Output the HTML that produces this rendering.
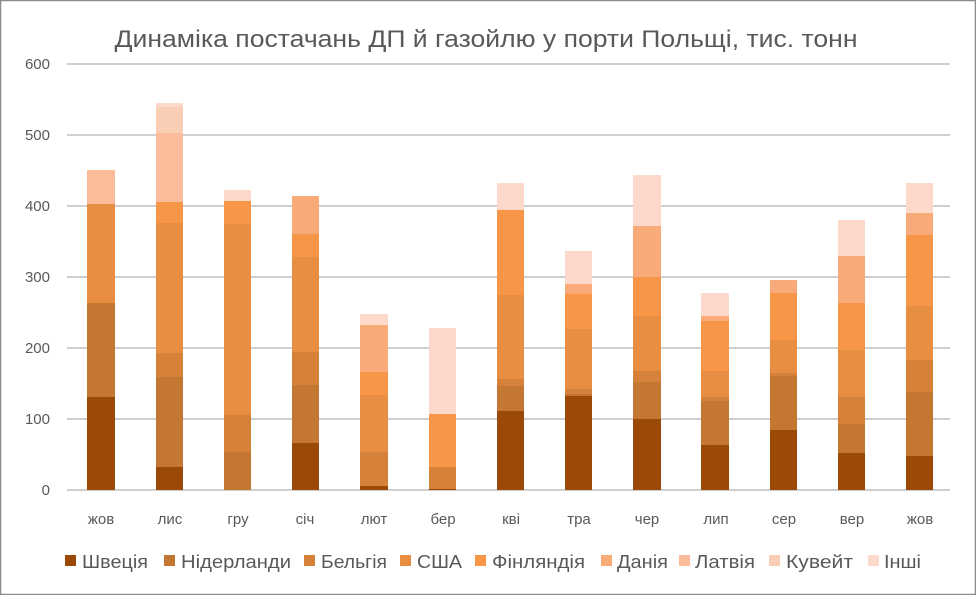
<!DOCTYPE html>
<html><head><meta charset="utf-8"><style>
html,body{margin:0;padding:0;background:#fff}
svg{display:block;font-family:"Liberation Sans",sans-serif}
</style></head><body>
<svg width="976" height="595" viewBox="0 0 976 595" xmlns="http://www.w3.org/2000/svg">
<rect x="0.5" y="0.5" width="975" height="594" fill="#fff" stroke="#8c8c8c" stroke-width="1.5"/>
<text x="486" y="47" font-size="24" fill="#595959" text-anchor="middle" textLength="743" lengthAdjust="spacingAndGlyphs">Динаміка постачань ДП й газойлю у порти Польщі, тис. тонн</text>
<g stroke="#bfbfbf" stroke-width="1.5">
<line x1="67" x2="950" y1="64" y2="64"/><line x1="67" x2="950" y1="135" y2="135"/>
<line x1="67" x2="950" y1="206" y2="206"/><line x1="67" x2="950" y1="277" y2="277"/>
<line x1="67" x2="950" y1="348" y2="348"/><line x1="67" x2="950" y1="419" y2="419"/>
</g>
<g font-size="15" fill="#595959" text-anchor="end">
<text x="50" y="69">600</text><text x="50" y="140">500</text><text x="50" y="211">400</text>
<text x="50" y="282">300</text><text x="50" y="353">200</text><text x="50" y="424">100</text><text x="50" y="495">0</text>
</g>
<g id="bars"></g>
<line x1="67" x2="950" y1="490" y2="490" stroke="#bfbfbf" stroke-width="1.5"/>
<g font-size="15" fill="#595959" text-anchor="middle">
<text x="101" y="524">жов</text><text x="170" y="524">лис</text><text x="238" y="524">гру</text>
<text x="305" y="524">січ</text><text x="374" y="524">лют</text><text x="443" y="524">бер</text>
<text x="511" y="524">кві</text><text x="579" y="524">тра</text><text x="647" y="524">чер</text>
<text x="716" y="524">лип</text><text x="784" y="524">сер</text><text x="852" y="524">вер</text>
<text x="920" y="524">жов</text>
</g>
<g font-size="18" fill="#595959">
<rect x="65" y="555" width="11" height="11" fill="#9A4A06"/><text x="82" y="568" textLength="66" lengthAdjust="spacingAndGlyphs">Швеція</text>
<rect x="164" y="555" width="11" height="11" fill="#C47633"/><text x="181" y="568" textLength="110" lengthAdjust="spacingAndGlyphs">Нідерланди</text>
<rect x="304" y="555" width="11" height="11" fill="#D6813A"/><text x="321" y="568" textLength="66" lengthAdjust="spacingAndGlyphs">Бельгія</text>
<rect x="400" y="555" width="11" height="11" fill="#E88E42"/><text x="417" y="568" textLength="45" lengthAdjust="spacingAndGlyphs">США</text>
<rect x="475" y="555" width="11" height="11" fill="#F79646"/><text x="492" y="568" textLength="93" lengthAdjust="spacingAndGlyphs">Фінляндія</text>
<rect x="601" y="555" width="11" height="11" fill="#F8AA79"/><text x="617" y="568" textLength="51" lengthAdjust="spacingAndGlyphs">Данія</text>
<rect x="679" y="555" width="11" height="11" fill="#FABC9A"/><text x="695" y="568" textLength="60" lengthAdjust="spacingAndGlyphs">Латвія</text>
<rect x="769" y="555" width="11" height="11" fill="#FACDB5"/><text x="786" y="568" textLength="67" lengthAdjust="spacingAndGlyphs">Кувейт</text>
<rect x="868" y="555" width="11" height="11" fill="#FCD9CA"/><text x="884" y="568" textLength="37" lengthAdjust="spacingAndGlyphs">Інші</text>
</g>
<g>
<!-- жов -->
<rect x="87" y="397" width="28" height="93" fill="#9A4A06"/>
<rect x="87" y="303" width="28" height="94" fill="#C47633"/>
<rect x="87" y="204" width="28" height="99" fill="#E88E42"/>
<rect x="87" y="170" width="28" height="34" fill="#FABC9A"/>
<!-- лис -->
<rect x="156" y="467" width="27" height="23" fill="#9A4A06"/>
<rect x="156" y="377" width="27" height="90" fill="#C47633"/>
<rect x="156" y="353" width="27" height="24" fill="#D6813A"/>
<rect x="156" y="223" width="27" height="130" fill="#E88E42"/>
<rect x="156" y="202" width="27" height="21" fill="#F79646"/>
<rect x="156" y="133" width="27" height="69" fill="#FABC9A"/>
<rect x="156" y="107" width="27" height="26" fill="#FACDB5"/>
<rect x="156" y="103" width="27" height="4" fill="#FCD9CA"/>
<!-- гру -->
<rect x="224" y="452" width="27" height="38" fill="#C47633"/>
<rect x="224" y="415" width="27" height="37" fill="#D6813A"/>
<rect x="224" y="224" width="27" height="191" fill="#E88E42"/>
<rect x="224" y="201" width="27" height="23" fill="#F79646"/>
<rect x="224" y="190" width="27" height="11" fill="#FCD9CA"/>
<!-- січ -->
<rect x="292" y="443" width="27" height="47" fill="#9A4A06"/>
<rect x="292" y="385" width="27" height="58" fill="#C47633"/>
<rect x="292" y="352" width="27" height="33" fill="#D6813A"/>
<rect x="292" y="257" width="27" height="95" fill="#E88E42"/>
<rect x="292" y="234" width="27" height="23" fill="#F79646"/>
<rect x="292" y="196" width="27" height="38" fill="#F8AA79"/>
<!-- лют -->
<rect x="360" y="486" width="28" height="4" fill="#9A4A06"/>
<rect x="360" y="452" width="28" height="34" fill="#D6813A"/>
<rect x="360" y="395" width="28" height="57" fill="#E88E42"/>
<rect x="360" y="372" width="28" height="23" fill="#F79646"/>
<rect x="360" y="325" width="28" height="47" fill="#F8AA79"/>
<rect x="360" y="314" width="28" height="11" fill="#FCD9CA"/>
<!-- бер -->
<rect x="429" y="489" width="27" height="1" fill="#9A4A06"/>
<rect x="429" y="467" width="27" height="22" fill="#D6813A"/>
<rect x="429" y="414" width="27" height="53" fill="#F79646"/>
<rect x="429" y="328" width="27" height="86" fill="#FCD9CA"/>
<!-- кві -->
<rect x="497" y="411" width="27" height="79" fill="#9A4A06"/>
<rect x="497" y="386" width="27" height="25" fill="#C47633"/>
<rect x="497" y="379" width="27" height="7" fill="#D6813A"/>
<rect x="497" y="295" width="27" height="84" fill="#E88E42"/>
<rect x="497" y="210" width="27" height="85" fill="#F79646"/>
<rect x="497" y="183" width="27" height="27" fill="#FCD9CA"/>
<!-- тра -->
<rect x="565" y="396" width="27" height="94" fill="#9A4A06"/>
<rect x="565" y="394" width="27" height="2" fill="#C47633"/>
<rect x="565" y="389" width="27" height="5" fill="#D6813A"/>
<rect x="565" y="329" width="27" height="60" fill="#E88E42"/>
<rect x="565" y="294" width="27" height="35" fill="#F79646"/>
<rect x="565" y="284" width="27" height="10" fill="#F8AA79"/>
<rect x="565" y="251" width="27" height="33" fill="#FCD9CA"/>
<!-- чер -->
<rect x="633" y="419" width="28" height="71" fill="#9A4A06"/>
<rect x="633" y="382" width="28" height="37" fill="#C47633"/>
<rect x="633" y="371" width="28" height="11" fill="#D6813A"/>
<rect x="633" y="316" width="28" height="55" fill="#E88E42"/>
<rect x="633" y="277" width="28" height="39" fill="#F79646"/>
<rect x="633" y="226" width="28" height="51" fill="#F8AA79"/>
<rect x="633" y="175" width="28" height="51" fill="#FCD9CA"/>
<!-- лип -->
<rect x="701" y="445" width="28" height="45" fill="#9A4A06"/>
<rect x="701" y="401" width="28" height="44" fill="#C47633"/>
<rect x="701" y="397" width="28" height="4" fill="#D6813A"/>
<rect x="701" y="371" width="28" height="26" fill="#E88E42"/>
<rect x="701" y="321" width="28" height="50" fill="#F79646"/>
<rect x="701" y="316" width="28" height="5" fill="#F8AA79"/>
<rect x="701" y="293" width="28" height="23" fill="#FCD9CA"/>
<!-- сер -->
<rect x="770" y="430" width="27" height="60" fill="#9A4A06"/>
<rect x="770" y="376" width="27" height="54" fill="#C47633"/>
<rect x="770" y="373" width="27" height="3" fill="#D6813A"/>
<rect x="770" y="340" width="27" height="33" fill="#E88E42"/>
<rect x="770" y="293" width="27" height="47" fill="#F79646"/>
<rect x="770" y="280" width="27" height="13" fill="#F8AA79"/>
<!-- вер -->
<rect x="838" y="453" width="27" height="37" fill="#9A4A06"/>
<rect x="838" y="424" width="27" height="29" fill="#C47633"/>
<rect x="838" y="397" width="27" height="27" fill="#D6813A"/>
<rect x="838" y="350" width="27" height="47" fill="#E88E42"/>
<rect x="838" y="303" width="27" height="47" fill="#F79646"/>
<rect x="838" y="256" width="27" height="47" fill="#F8AA79"/>
<rect x="838" y="220" width="27" height="36" fill="#FCD9CA"/>
<!-- жов -->
<rect x="906" y="456" width="27" height="34" fill="#9A4A06"/>
<rect x="906" y="392" width="27" height="64" fill="#C47633"/>
<rect x="906" y="360" width="27" height="32" fill="#D6813A"/>
<rect x="906" y="306" width="27" height="54" fill="#E88E42"/>
<rect x="906" y="235" width="27" height="71" fill="#F79646"/>
<rect x="906" y="213" width="27" height="22" fill="#F8AA79"/>
<rect x="906" y="183" width="27" height="30" fill="#FCD9CA"/>
</g>
</svg>
</body></html>
